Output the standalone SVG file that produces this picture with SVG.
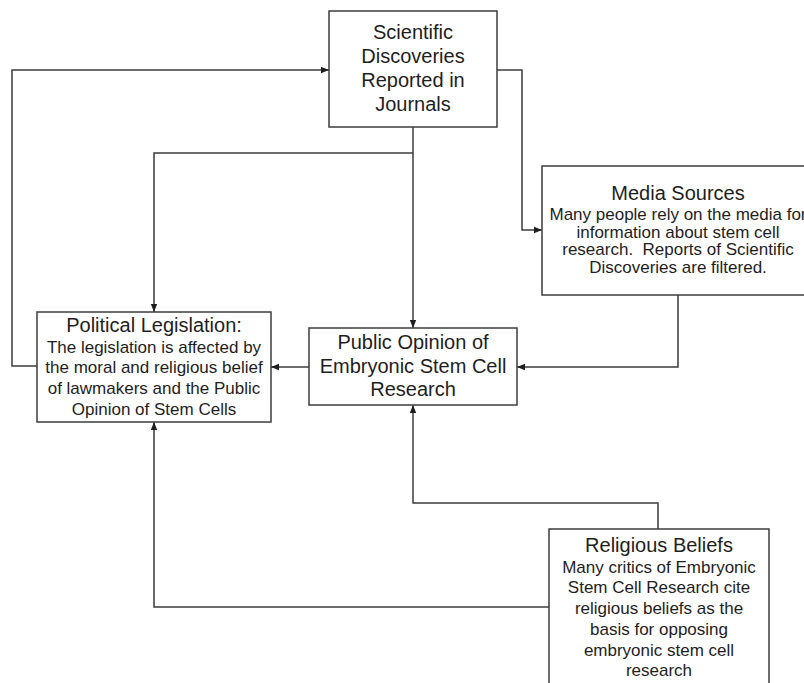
<svg xmlns="http://www.w3.org/2000/svg" width="804" height="683" viewBox="0 0 804 683">
<defs>
<style>
.box{fill:#fff;stroke:#3c3c3c;stroke-width:1.5}
.ln{fill:none;stroke:#3c3c3c;stroke-width:1.5}
text{font-family:"Liberation Sans",Arial,sans-serif;fill:#1e1e1e;text-anchor:middle}
.t{font-size:20px}
.b{font-size:17px}
</style>
<marker id="ah" viewBox="0 0 10 10" refX="10" refY="5" markerWidth="8" markerHeight="8" markerUnits="userSpaceOnUse" orient="auto">
<path d="M0,1 L10,5 L0,9 Z" fill="#1e1e1e"/>
</marker>
</defs>
<rect width="804" height="683" fill="#fff"/>
<g id="connectors">
<path class="ln" d="M37,366 H12 V70 H329" marker-end="url(#ah)"/>
<path class="ln" d="M497,70 H522 V230 H542" marker-end="url(#ah)"/>
<path class="ln" d="M413,127 V328" marker-end="url(#ah)"/>
<path class="ln" d="M413,153 H154 V312" marker-end="url(#ah)"/>
<path class="ln" d="M309,367 H271" marker-end="url(#ah)"/>
<path class="ln" d="M678,295 V367 H517" marker-end="url(#ah)"/>
<path class="ln" d="M658,529 V503 H413 V405" marker-end="url(#ah)"/>
<path class="ln" d="M549,607 H154 V422" marker-end="url(#ah)"/>
</g>
<g id="scientific">
<rect class="box" x="329" y="11" width="168" height="116"/>
<text class="t" x="413" y="39">Scientific</text>
<text class="t" x="413" y="63">Discoveries</text>
<text class="t" x="413" y="87">Reported in</text>
<text class="t" x="413" y="111">Journals</text>
</g>
<g id="media">
<rect class="box" x="542" y="166" width="272" height="129"/>
<text class="t" x="678" y="200">Media Sources</text>
<text class="b" x="678" y="220">Many people rely on the media for</text>
<text class="b" x="678" y="238">information about stem cell</text>
<text class="b" x="678" y="255" xml:space="preserve">research.  Reports of Scientific</text>
<text class="b" x="678" y="273">Discoveries are filtered.</text>
</g>
<g id="political">
<rect class="box" x="37" y="312" width="234" height="110"/>
<text class="t" x="154" y="332">Political Legislation:</text>
<text class="b" x="154" y="353">The legislation is affected by</text>
<text class="b" x="154" y="373">the moral and religious belief</text>
<text class="b" x="154" y="394">of lawmakers and the Public</text>
<text class="b" x="154" y="415">Opinion of Stem Cells</text>
</g>
<g id="public">
<rect class="box" x="309" y="328" width="208" height="77"/>
<text class="t" x="413" y="349">Public Opinion of</text>
<text class="t" x="413" y="373">Embryonic Stem Cell</text>
<text class="t" x="413" y="396">Research</text>
</g>
<g id="religious">
<rect class="box" x="549" y="529" width="220" height="170"/>
<text class="t" x="659" y="552">Religious Beliefs</text>
<text class="b" x="659" y="573">Many critics of Embryonic</text>
<text class="b" x="659" y="593">Stem Cell Research cite</text>
<text class="b" x="659" y="614">religious beliefs as the</text>
<text class="b" x="659" y="635">basis for opposing</text>
<text class="b" x="659" y="656">embryonic stem cell</text>
<text class="b" x="659" y="676">research</text>
</g>
</svg>
